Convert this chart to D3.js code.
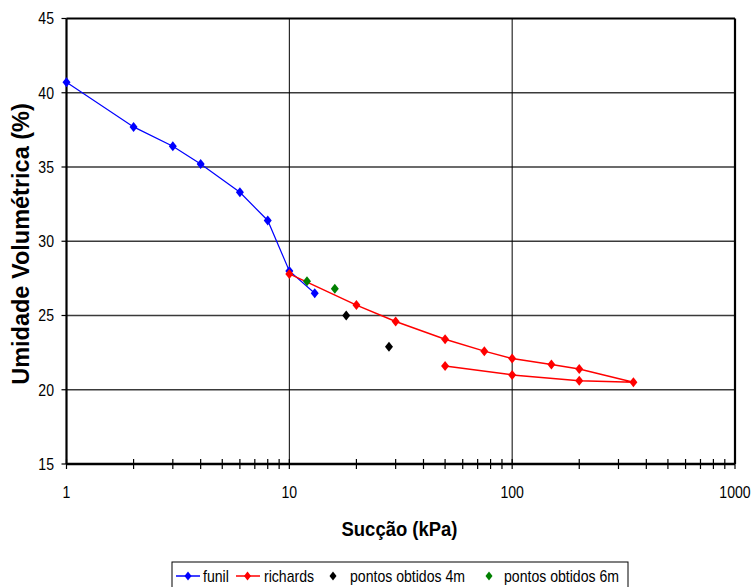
<!DOCTYPE html>
<html>
<head>
<meta charset="utf-8">
<script src="https://cdn.jsdelivr.net/npm/d3@7"></script>
<style>
  html, body { margin: 0; padding: 0; background: #fff; }
  svg { display: block; font-family: "Liberation Sans", Arial, sans-serif; }
</style>
</head>
<body>
<svg id="chart" width="753" height="587"></svg>
<script>
// Suction (kPa) vs volumetric water content (%)
const funilX = [1, 2, 3, 4, 6, 8, 10, 13];
const funilY = [40.7, 37.7, 36.4, 35.2, 33.3, 31.4, 28.0, 26.5];

const richardsX = [10, 20, 30, 50, 75, 100, 150, 200, 350, 200, 100, 50];
const richardsY = [27.8, 25.7, 24.6, 23.4, 22.6, 22.1, 21.7, 21.4, 20.5, 20.6, 21.0, 21.6];

const pontos4mX = [18, 28];
const pontos4mY = [25.0, 22.9];

const pontos6mX = [12, 16];
const pontos6mY = [27.3, 26.8];

const xTicks = [1, 10, 100, 1000];
const yTicks = [15, 20, 25, 30, 35, 40, 45];

const seriesNames = ["funil", "richards", "pontos obtidos 4m", "pontos obtidos 6m"];
const seriesColors = ["#0000ff", "#ff0000", "#000000", "#008000"];

const xTitle = "Sucção (kPa)";
const yTitle = "Umidade Volumétrica (%)";

const svg = d3.select("#chart");
const plotLeft = 66.5, plotRight = 735, plotTop = 18.5, plotBottom = 464;

const x = d3.scaleLog().domain([1, 1000]).range([plotLeft, plotRight]);
const y = d3.scaleLinear().domain([15, 45]).range([plotBottom, plotTop]);

const squeeze = 0.88; // horizontal text compression

// horizontal grid lines
svg.append("g").selectAll("line")
  .data(yTicks.filter(v => v > 15 && v < 45))
  .join("line")
  .attr("x1", plotLeft).attr("x2", plotRight)
  .attr("y1", d => y(d)).attr("y2", d => y(d))
  .attr("stroke", "#3a3a3a").attr("stroke-width", 1.3);

// vertical grid lines at decades
svg.append("g").selectAll("line")
  .data(xTicks.filter(v => v > 1 && v < 1000))
  .join("line")
  .attr("x1", d => x(d)).attr("x2", d => x(d))
  .attr("y1", plotTop).attr("y2", plotBottom)
  .attr("stroke", "#000").attr("stroke-width", 1);

// frame
svg.append("line").attr("x1", plotLeft).attr("x2", plotRight).attr("y1", plotTop).attr("y2", plotTop)
  .attr("stroke", "#000").attr("stroke-width", 2.2);
svg.append("line").attr("x1", plotRight).attr("x2", plotRight).attr("y1", plotTop).attr("y2", plotBottom)
  .attr("stroke", "#000").attr("stroke-width", 2.2);

// x axis with crossing minor ticks
const xAxis = svg.append("g");
const allXTicks = x.ticks();
xAxis.selectAll("line.tick")
  .data(allXTicks)
  .join("line")
  .attr("class", "tick")
  .attr("x1", d => x(d)).attr("x2", d => x(d))
  .attr("y1", plotBottom - 5).attr("y2", plotBottom + 5)
  .attr("stroke", "#000").attr("stroke-width", 1.2);
xAxis.append("line").attr("x1", plotLeft).attr("x2", plotRight).attr("y1", plotBottom).attr("y2", plotBottom)
  .attr("stroke", "#000").attr("stroke-width", 2.6);
xAxis.selectAll("text")
  .data(xTicks)
  .join("text")
  .attr("transform", d => `translate(${x(d)},498) scale(${squeeze},1)`)
  .attr("text-anchor", "middle")
  .attr("font-size", 16)
  .attr("fill", "#000")
  .text(d => d);

// y axis
const yAxis = svg.append("g");
yAxis.selectAll("line.tick")
  .data(yTicks)
  .join("line")
  .attr("class", "tick")
  .attr("x1", plotLeft - 5).attr("x2", plotLeft)
  .attr("y1", d => y(d)).attr("y2", d => y(d))
  .attr("stroke", "#000").attr("stroke-width", 1.2);
yAxis.append("line").attr("x1", plotLeft).attr("x2", plotLeft).attr("y1", plotTop).attr("y2", plotBottom)
  .attr("stroke", "#000").attr("stroke-width", 2.2);
yAxis.selectAll("text")
  .data(yTicks)
  .join("text")
  .attr("transform", d => `translate(54,${y(d) + 5.8}) scale(${squeeze},1)`)
  .attr("text-anchor", "end")
  .attr("font-size", 16)
  .attr("fill", "#000")
  .text(d => d);

// axis titles
svg.append("text")
  .attr("transform", `translate(399.5,536) scale(${squeeze},1)`)
  .attr("text-anchor", "middle")
  .attr("font-size", 21)
  .attr("font-weight", "bold")
  .text(xTitle);

svg.append("text")
  .attr("transform", `translate(29,244) rotate(-90)`)
  .attr("text-anchor", "middle")
  .attr("font-size", 23.5)
  .attr("font-weight", "bold")
  .text(yTitle);

// diamond marker
const diamond = (hw, hh) => `M0,${-hh}L${hw},0L0,${hh}L${-hw},0Z`;

const line = d3.line().x(d => x(d[0])).y(d => y(d[1]));

function drawSeries(xs, ys, color, withLine, lineWidth) {
  const pts = xs.map((v, i) => [v, ys[i]]);
  const g = svg.append("g");
  if (withLine) {
    g.append("path").datum(pts)
      .attr("d", line)
      .attr("fill", "none")
      .attr("stroke", color)
      .attr("stroke-width", lineWidth);
  }
  g.selectAll("path.m")
    .data(pts)
    .join("path")
    .attr("class", "m")
    .attr("d", diamond(4, 5))
    .attr("transform", d => `translate(${x(d[0])},${y(d[1])})`)
    .attr("fill", color);
}

drawSeries(funilX, funilY, seriesColors[0], true, 1.2);
drawSeries(richardsX, richardsY, seriesColors[1], true, 1.5);
drawSeries(pontos4mX, pontos4mY, seriesColors[2], false);
drawSeries(pontos6mX, pontos6mY, seriesColors[3], false);

// legend
const legend = svg.append("g");
legend.append("rect")
  .attr("x", 172).attr("y", 562).attr("width", 456).attr("height", 30)
  .attr("fill", "#fff").attr("stroke", "#000").attr("stroke-width", 1);

const legendItems = [
  { marker: 188, line: [176, 200], text: 203 },
  { marker: 247.5, line: [236, 260], text: 264 },
  { marker: 333, line: null, text: 350 },
  { marker: 489, line: null, text: 504 }
];
legendItems.forEach((it, i) => {
  if (it.line) {
    legend.append("line")
      .attr("x1", it.line[0]).attr("x2", it.line[1])
      .attr("y1", 576).attr("y2", 576)
      .attr("stroke", seriesColors[i]).attr("stroke-width", 1.5);
  }
  legend.append("path")
    .attr("d", diamond(3.5, 4.5))
    .attr("transform", `translate(${it.marker},576)`)
    .attr("fill", seriesColors[i]);
  legend.append("text")
    .attr("transform", `translate(${it.text},581.5) scale(${squeeze},1)`)
    .attr("font-size", 16)
    .attr("fill", "#000")
    .text(seriesNames[i]);
});
</script>
</body>
</html>
